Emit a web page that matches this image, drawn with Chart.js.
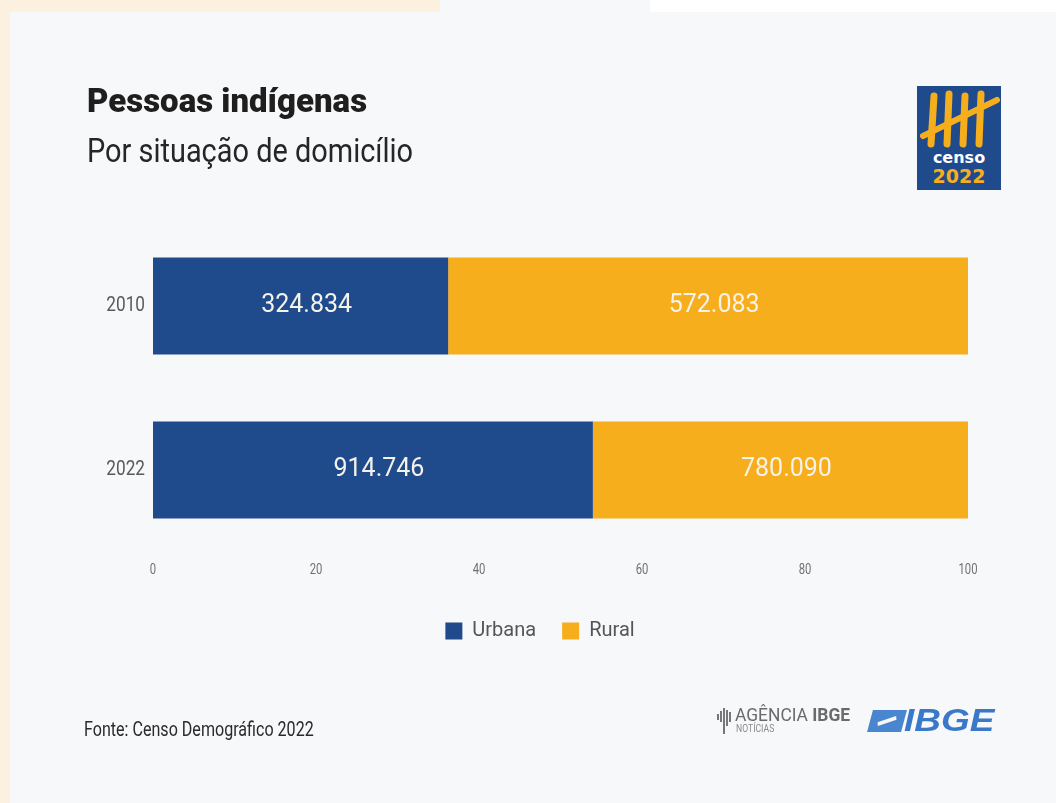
<!DOCTYPE html>
<html lang="pt-BR">
<head>
<meta charset="UTF-8">
<title>Pessoas indígenas</title>
<script src="https://cdn.jsdelivr.net/npm/chart.js"></script>
<style>
    html, body { margin: 0; padding: 0; }
    body {
        width: 1056px; height: 803px; position: relative; overflow: hidden;
        background: #f7f8f9;
        font-family: Roboto, sans-serif;
    }
    .strip-left { position: absolute; left: 0; top: 0; width: 10px; height: 803px; background: #fcf1df; }
    .strip-top { position: absolute; left: 0; top: 0; width: 440px; height: 12px; background: #fcf1df; }
    .strip-top2 { position: absolute; left: 650px; top: 0; width: 406px; height: 12px; background: #ffffff; }
    #wrap { position: absolute; left: 0; top: 0; width: 1056px; height: 803px; }
    .fit { position: absolute; white-space: nowrap; transform-origin: 0 0; line-height: 1.171; }
    .title { left: 87px; top: 82px; font-size: 33px; font-weight: 900; color: #1e1e1e; }
    .subtitle { left: 87px; top: 132px; font-size: 33px; color: #262626; }
    .fonte { left: 84px; top: 718px; font-size: 20px; color: #2a2a2a; }
    .censo { position: absolute; left: 917px; top: 86px; width: 84px; height: 104px; background: #1f4a8c; }
    .censo .c1 { position: absolute; left: 0; width: 84px; top: 64px; text-align: center; color: #fff;
        font-family: "DejaVu Sans", sans-serif; font-weight: bold; font-size: 16px; line-height: 1; }
    .censo .c2 { position: absolute; left: 0; width: 84px; top: 81px; text-align: center; color: #f6ae1c;
        font-family: "DejaVu Sans", sans-serif; font-weight: bold; font-size: 19px; line-height: 1; }
    .agencia-ico { position: absolute; left: 716px; top: 706px; }
    .a1 { left: 735px; top: 704px; font-size: 18px; color: #6a6a6a; }
    .a2 { left: 736px; top: 723px; font-size: 10px; color: #8a8a8a; }
    .ibge-box { position: absolute; left: 870px; top: 710px; width: 34px; height: 22px; background: #4a86cf; transform: skewX(-15deg); }
    .ibge-box i { position: absolute; left: 8px; top: 9px; width: 18px; height: 4px; background: #f7f8f9; transform: rotate(-20deg); }
    .ibge-txt { left: 904px; top: 702px; font-family: "Liberation Sans", Arial, sans-serif;
        font-weight: bold; font-style: italic; font-size: 32px; color: #3a78c9; }
</style>
</head>
<body>
<div class="strip-left"></div>
<div class="strip-top"></div>
<div class="strip-top2"></div>

<div id="wrap"><canvas id="grafico" width="1056" height="803"></canvas></div>

<div class="fit title" data-w="280">Pessoas indígenas</div>
<div class="fit subtitle" data-w="326">Por situação de domicílio</div>

<div class="censo">
    <svg width="84" height="66" style="position:absolute;left:0;top:0">
        <g stroke="#f6ae1c" stroke-width="7" stroke-linecap="round">
            <line x1="17" y1="10" x2="14" y2="58"/>
            <line x1="32" y1="8" x2="30" y2="58"/>
            <line x1="48" y1="10" x2="46" y2="58"/>
            <line x1="64" y1="8" x2="62" y2="58"/>
        </g>
        <line x1="6" y1="50" x2="80" y2="14" stroke="#f6ae1c" stroke-width="6" stroke-linecap="round"/>
    </svg>
    <div class="c1">censo</div>
    <div class="c2">2022</div>
</div>

<svg class="agencia-ico" width="18" height="30">
    <g stroke="#777" stroke-width="2">
        <line x1="2" y1="8" x2="2" y2="14"/>
        <line x1="5" y1="5" x2="5" y2="16"/>
        <line x1="8" y1="2" x2="8" y2="28"/>
        <line x1="11" y1="4" x2="11" y2="20"/>
        <line x1="14" y1="6" x2="14" y2="16"/>
    </g>
</svg>
<div class="fit a1" data-w="115">AGÊNCIA <b>IBGE</b></div>
<div class="fit a2" data-w="38">NOTÍCIAS</div>
<div class="ibge-box"><i></i></div>
<div class="fit ibge-txt" data-w="90">IBGE</div>

<div class="fit fonte" data-w="230">Fonte: Censo Demográfico 2022</div>

<script>
    // dados (pessoas indígenas por situação de domicílio)
    const categorias = ["2010", "2022"];
    const urbana = [324834, 914746];
    const rural = [572083, 780090];
    const series = ["Urbana", "Rural"];
    const ticksX = [0, 20, 40, 60, 80, 100];

    const corUrbana = "#1f4a8c";
    const corRural = "#f6ae1c";

    // textos condensados: ajusta a largura
    document.querySelectorAll(".fit").forEach(el => {
        const w = Number(el.dataset.w);
        el.style.transform = "scaleX(" + (w / el.offsetWidth) + ")";
    });

    // porcentagem de cada ano (barra 100%)
    const total = urbana.map((u, i) => u + rural[i]);
    const pctUrbana = urbana.map((u, i) => u / total[i] * 100);
    const pctRural = rural.map((r, i) => r / total[i] * 100);

    function formatar(n) {
        return String(n).replace(/\B(?=(\d{3})+(?!\d))/g, ".");
    }

    function textoCond(ctx, txt, x, y, align, sx) {
        ctx.save();
        ctx.translate(x, y);
        ctx.scale(sx, 1);
        ctx.textAlign = align;
        ctx.fillText(txt, 0, 0);
        ctx.restore();
    }

    const rotulos = {
        id: "rotulos",
        afterDraw(chart) {
            const ctx = chart.ctx;
            const brutos = [urbana, rural];
            ctx.save();
            ctx.textBaseline = "middle";
            // valores nas barras
            ctx.fillStyle = "#f4f2ea";
            ctx.font = "25px Roboto, sans-serif";
            ctx.textAlign = "center";
            chart.data.datasets.forEach((ds, d) => {
                chart.getDatasetMeta(d).data.forEach((bar, i) => {
                    const x = (bar.x + bar.base) / 2 + 6;
                    ctx.fillText(formatar(brutos[d][i]), x, bar.y);
                });
            });
            // anos (eixo y)
            const ys = chart.scales.y;
            ctx.fillStyle = "#5a5a5a";
            ctx.font = "21px Roboto, sans-serif";
            categorias.forEach((c, i) => {
                textoCond(ctx, c, ys.right - 8, ys.getPixelForTick(i), "right", 0.82);
            });
            // eixo x
            const xs = chart.scales.x;
            ctx.fillStyle = "#707070";
            ctx.font = "15px Roboto, sans-serif";
            ticksX.forEach(v => {
                textoCond(ctx, String(v), xs.getPixelForValue(v), xs.top + 18, "center", 0.75);
            });
            ctx.restore();
        }
    };

    new Chart(document.getElementById("grafico"), {
        type: "bar",
        data: {
            labels: categorias,
            datasets: [
                { label: series[0], data: pctUrbana, backgroundColor: corUrbana },
                { label: series[1], data: pctRural, backgroundColor: corRural }
            ]
        },
        options: {
            indexAxis: "y",
            responsive: false,
            animation: false,
            barPercentage: 0.59,
            categoryPercentage: 1.0,
            layout: { padding: { top: 224, right: 88, left: 112, bottom: 152 } },
            scales: {
                x: {
                    stacked: true, min: 0, max: 100,
                    afterBuildTicks(s) { s.ticks = ticksX.map(v => ({ value: v })); },
                    afterFit(s) { s.height = 43; },
                    grid: { display: false }, border: { display: false },
                    ticks: { display: false }
                },
                y: {
                    stacked: true,
                    afterFit(s) { s.width = 41; },
                    grid: { display: false }, border: { display: false },
                    ticks: { display: false }
                }
            },
            plugins: {
                legend: {
                    position: "bottom",
                    labels: {
                        boxWidth: 17, boxHeight: 17, padding: 26,
                        color: "#555", font: { family: "Roboto, sans-serif", size: 20 }
                    }
                },
                tooltip: { enabled: false }
            }
        },
        plugins: [rotulos]
    });
</script>
</body>
</html>
